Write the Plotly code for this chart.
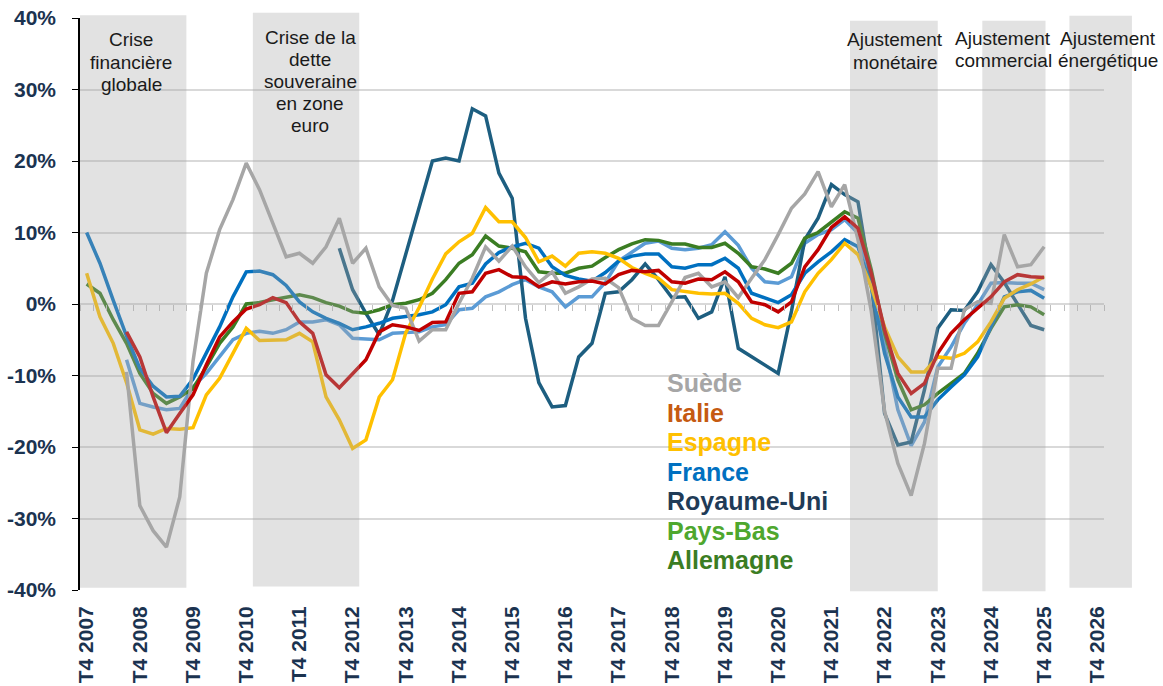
"""
Taux de change effectif / variation annuelle - recréation Plotly.
"""
import plotly.graph_objects as go

# Trimestres de T4 2007 à T4 2026 (l'axe va jusqu'à T4 2026, les données s'arrêtent à T4 2025)
QUARTERS = [f"T{q} {y}" for y in range(2007, 2027) for q in (1, 2, 3, 4)][3:]
TICK_LABELS = QUARTERS[::4]
Y_TICKS = [-40, -30, -20, -10, 0, 10, 20, 30, 40]
Y_TICK_LABELS = [f"{v}%" for v in Y_TICKS]

# Valeurs en %, une par trimestre depuis T4 2007 (None = pas de donnée)
suede = [None, None, None, -9.5, -28.2, -31.7, -34.0, -27.0, -8.0, 4.3,
         10.4, 14.6, 19.7, 16.0, 11.3, 6.6, 7.1, 5.7, 8.0, 12.0,
         5.7, 7.8, 2.4, -0.2, -0.6, -5.2, -3.6, -3.6, 0.1, 3.6,
         8.0, 6.0, 8.1, 5.2, 3.0, 4.5, 1.5, 2.4, 3.5, 3.6,
         2.3, -2.0, -3.0, -3.0, 0.3, 3.7, 4.3, 2.4, 3.1, 0.9,
         3.6, 6.2, 9.7, 13.4, 15.4, 18.5, 13.6, 16.7, 9.0, -1.0,
         -15.0, -22.3, -26.8, -19.5, -9.0, -9.0, -0.8, 0.3, 0.1, 9.7,
         5.2, 5.5, 8.0]
italie = [None, None, None, -3.9, -7.4, -13.0, -18.0, -15.3, -12.7, -8.5,
          -4.6, -2.5, -0.7, -0.1, 0.9, 0.2, -2.5, -4.1, -9.9, -11.7,
          -9.7, -7.8, -3.9, -2.9, -3.2, -3.7, -2.6, -2.5, 1.5, 1.7,
          4.3, 4.8, 3.8, 3.7, 2.4, 3.1, 2.8, 3.1, 3.2, 2.8,
          4.1, 4.7, 4.5, 4.7, 3.1, 2.9, 3.5, 3.4, 4.5, 3.1,
          0.3, -0.1, -1.1, 0.3, 5.2, 7.6, 10.7, 12.2, 10.6, 4.3,
          -3.6, -9.7, -12.5, -11.1, -6.9, -4.1, -2.2, -0.6, 1.0, 3.1,
          4.1, 3.8, 3.7]
espagne = [4.3, -1.8, -5.5, -11.0, -17.6, -18.2, -17.4, -17.5, -17.3, -12.7,
           -10.4, -6.9, -3.4, -5.1, -5.0, -5.0, -4.1, -5.3, -13.0, -16.2,
           -20.2, -19.0, -13.0, -10.6, -4.0, -0.5, 3.5, 7.0, 8.7, 9.9,
           13.5, 11.5, 11.5, 9.3, 5.9, 6.7, 5.3, 7.1, 7.3, 7.1,
           6.4, 5.1, 4.3, 3.6, 2.0, 1.7, 1.5, 1.4, 1.5, 0.1,
           -2.0, -2.9, -3.3, -2.5, 1.7, 4.3, 6.2, 8.5, 6.9, 2.4,
           -3.2, -7.4, -9.5, -9.5, -7.4, -7.6, -6.9, -5.3, -2.5, 0.8,
           2.0, 2.8, 3.8]
france = [10.0, 5.7, 0.5, -4.5, -9.0, -11.5, -13.0, -12.9, -10.5, -6.9,
          -3.2, 1.0, 4.5, 4.6, 4.1, 2.6, 0.3, -1.1, -2.0, -2.7,
          -3.6, -3.2, -2.7, -2.0, -1.8, -1.5, -1.1, -0.1, 2.4, 2.9,
          5.6, 7.2, 8.0, 8.5, 7.8, 5.2, 4.0, 3.5, 3.2, 4.4,
          6.0, 6.7, 7.0, 7.0, 5.2, 5.0, 5.5, 5.5, 6.4, 5.0,
          1.5, 0.9, 0.2, 1.3, 4.3, 5.9, 7.3, 9.0, 8.0, 2.4,
          -6.9, -13.0, -15.8, -15.8, -13.4, -11.6, -9.9, -7.4, -3.2, 1.0,
          1.7, 1.9, 0.8]
royaume_uni = [None] * 19 + [
    7.8, 2.0, -1.3, -4.3, 0.5, 7.0, 13.5, 20.0, 20.4, 20.0, 27.3,
    26.3, 18.3, 14.8, -2.0, -11.0, -14.4, -14.2, -7.4, -5.5, 1.5,
    1.7, 3.4, 5.6, 3.4, 0.9, 1.0, -2.0, -1.1, 3.8, -6.2,
    -7.4, -8.6, -9.7, -1.0, 9.0, 12.0, 16.7, 15.3, 14.3, 3.0,
    -15.3, -19.7, -19.3, -12.0, -3.4, -0.8, -0.9, 1.7, 5.5, 3.0,
    0.0, -3.0, -3.6]
pays_bas = [None, None, None, -7.8, -13.9, -14.4, -14.8, -14.6, -11.6, -9.7,
            -7.4, -5.0, -4.1, -3.8, -4.1, -3.6, -2.5, -2.5, -2.2, -2.9,
            -4.8, -4.9, -5.0, -4.1, -4.0, -3.9, -3.2, -2.9, -0.8, -0.6,
            1.0, 1.7, 2.7, 3.4, 2.4, 1.7, -0.4, 1.0, 1.0, 3.0,
            6.0, 7.3, 8.5, 8.8, 7.8, 7.6, 7.8, 8.3, 10.1, 8.2,
            5.0, 3.1, 2.9, 3.8, 8.5, 9.7, 10.4, 11.8, 9.9, 3.4,
            -6.0, -14.8, -19.8, -16.5, -8.8, -6.0, -2.7, -0.1, 2.9, 3.0,
            2.9, 2.9, 2.0]
allemagne = [2.8, 1.5, -2.2, -5.5, -9.7, -12.5, -13.9, -13.0, -11.8, -8.8,
             -5.5, -3.2, 0.0, 0.2, 0.6, 1.0, 1.3, 0.9, 0.2, -0.3,
             -1.1, -1.3, -0.8, -0.1, 0.1, 0.6, 1.5, 3.4, 5.7, 6.9,
             9.5, 8.1, 7.8, 7.3, 4.5, 4.3, 4.3, 5.0, 5.3, 6.5,
             7.6, 8.4, 9.0, 8.9, 8.4, 8.4, 7.9, 7.9, 8.5, 7.1,
             5.2, 4.9, 4.3, 5.7, 9.2, 10.0, 11.5, 12.9, 12.0, 4.8,
             -4.1, -10.6, -14.8, -14.1, -12.5, -11.1, -9.7, -6.9, -3.4, -0.4,
             -0.1, -0.4, -1.5]

# Légende écrite dans le graphique
LEGEND_NAMES = ["Suède", "Italie", "Espagne", "France", "Royaume-Uni", "Pays-Bas", "Allemagne"]
LEGEND_COLORS = ["#A6A6A6", "#C55A11", "#FFC000", "#0070C0", "#1F3B57", "#4EA72E", "#3B7D23"]

# Périodes grisées (en position de trimestre) et leurs libellés
PERIOD_STARTS = [-0.5, 12.5, 57.4, 67.35, 73.9]
PERIOD_ENDS = [7.5, 20.5, 64.0, 72.1, 78.6]
PERIOD_LABELS = [["Crise", "financière", "globale"],
                 ["Crise de la", "dette", "souveraine", "en zone", "euro"],
                 ["Ajustement", "monétaire"],
                 ["Ajustement", "commercial"],
                 ["Ajustement", "énergétique"]]

COLORS = {
    "text": "#1B3350",
    "grid": "#D9D9D9",
    "shade": "rgba(168,168,168,0.33)",
}

FONT = "Liberation Sans, Arial, sans-serif"
W, H = 1163, 686
L, R, T, B = 80, 1104, 18, 590
X_MIN, X_MAX = -0.5, len(QUARTERS) - 0.5


def px_x(px):
    return (px - L) / (R - L)


def px_y(py):
    return (B - py) / (B - T)


def q_paper(q):
    return (q - X_MIN) / (X_MAX - X_MIN)


series = [
    ("Pays-Bas", pays_bas, "#5B9BD5"),
    ("Royaume-Uni", royaume_uni, "#1D5E80"),
    ("Allemagne", allemagne, "#3B7D23"),
    ("France", france, "#0070C0"),
    ("Espagne", espagne, "#FFC000"),
    ("Suède", suede, "#A6A6A6"),
    ("Italie", italie, "#C00000"),
]

fig = go.Figure()

for name, values, color in series:
    fig.add_trace(go.Scatter(
        x=list(range(len(values))),
        y=values,
        name=name,
        mode="lines",
        line=dict(color=color, width=3.5),
        showlegend=False,
    ))

# axe secondaire : petites graduations sur la ligne 0 %
fig.add_trace(go.Scatter(x=[], y=[], xaxis="x2", showlegend=False, hoverinfo="skip"))

# périodes grisées, dessinées au-dessus des courbes en transparence
tops = [1.005, 1.009, 0.995, 0.995, 1.004]
bottoms = [0.004, 0.006, -0.002, -0.002, 0.004]
for x0, x1, y1, y0 in zip(PERIOD_STARTS, PERIOD_ENDS, tops, bottoms):
    fig.add_shape(type="rect", xref="paper", yref="paper",
                  x0=q_paper(x0), x1=q_paper(x1), y0=y0, y1=y1,
                  fillcolor=COLORS["shade"], line_width=0, layer="above")

# libellés des périodes, une ligne à la fois (interligne serré comme l'original)
label_pos = [(131, 40), (310, 37), (895, 40), (1003, 38), (1108, 38)]
for lines, (cx, cy) in zip(PERIOD_LABELS, label_pos):
    for k, line in enumerate(lines):
        fig.add_annotation(x=px_x(cx), y=px_y(cy + 22.2 * k), xref="paper", yref="paper",
                           text=line, showarrow=False, xanchor="center", yanchor="middle",
                           font=dict(family=FONT, size=19, color="#1A1A1A"))

# légende : un libellé par ligne, espacement fixe
for k, (name, color) in enumerate(zip(LEGEND_NAMES, LEGEND_COLORS)):
    fig.add_annotation(x=px_x(665), y=px_y(383 + 29.5 * k), xref="paper", yref="paper",
                       text=name, showarrow=False, xanchor="left", yanchor="middle",
                       font=dict(family=FONT, size=25, weight="bold", color=color))

fig.update_layout(
    width=W, height=H,
    margin=dict(l=L, r=W - R, t=T, b=H - B, autoexpand=False),
    plot_bgcolor="white",
    paper_bgcolor="white",
    font=dict(family=FONT, color=COLORS["text"]),
    showlegend=False,
    hovermode="x unified",
    xaxis=dict(
        range=[X_MIN, X_MAX],
        tickvals=list(range(0, len(QUARTERS), 4)),
        ticktext=TICK_LABELS,
        tickangle=-90,
        tickfont=dict(size=21, weight="bold", color=COLORS["text"]),
        ticks="",
        showgrid=False,
        zeroline=False,
        showline=False,
        automargin=False,
        ticklabelstandoff=11,
    ),
    xaxis2=dict(
        overlaying="x",
        matches="x",
        anchor="free",
        position=0.5,
        side="bottom",
        tickvals=[i - 0.5 for i in range(len(QUARTERS) + 1)],
        ticks="outside",
        ticklen=6,
        tickwidth=1,
        tickcolor="#BFBFBF",
        showticklabels=False,
        showgrid=False,
        zeroline=False,
        showline=False,
        automargin=False,
    ),
    yaxis=dict(
        range=[-40, 40],
        tickvals=Y_TICKS,
        ticktext=Y_TICK_LABELS,
        tickfont=dict(size=21, weight="bold", color=COLORS["text"]),
        showgrid=True,
        gridcolor=COLORS["grid"],
        gridwidth=1.5,
        zeroline=False,
        showline=True,
        linecolor="black",
        linewidth=1.5,
        ticks="outside",
        ticklen=6,
        tickcolor="black",
        automargin=False,
        ticklabelstandoff=12,
    ),
)

# pas de marge par défaut autour de la page, pas de barre d'outils
fig.write_html("out.html", config={"displayModeBar": False},
               post_script="document.body.style.margin = '0';")
